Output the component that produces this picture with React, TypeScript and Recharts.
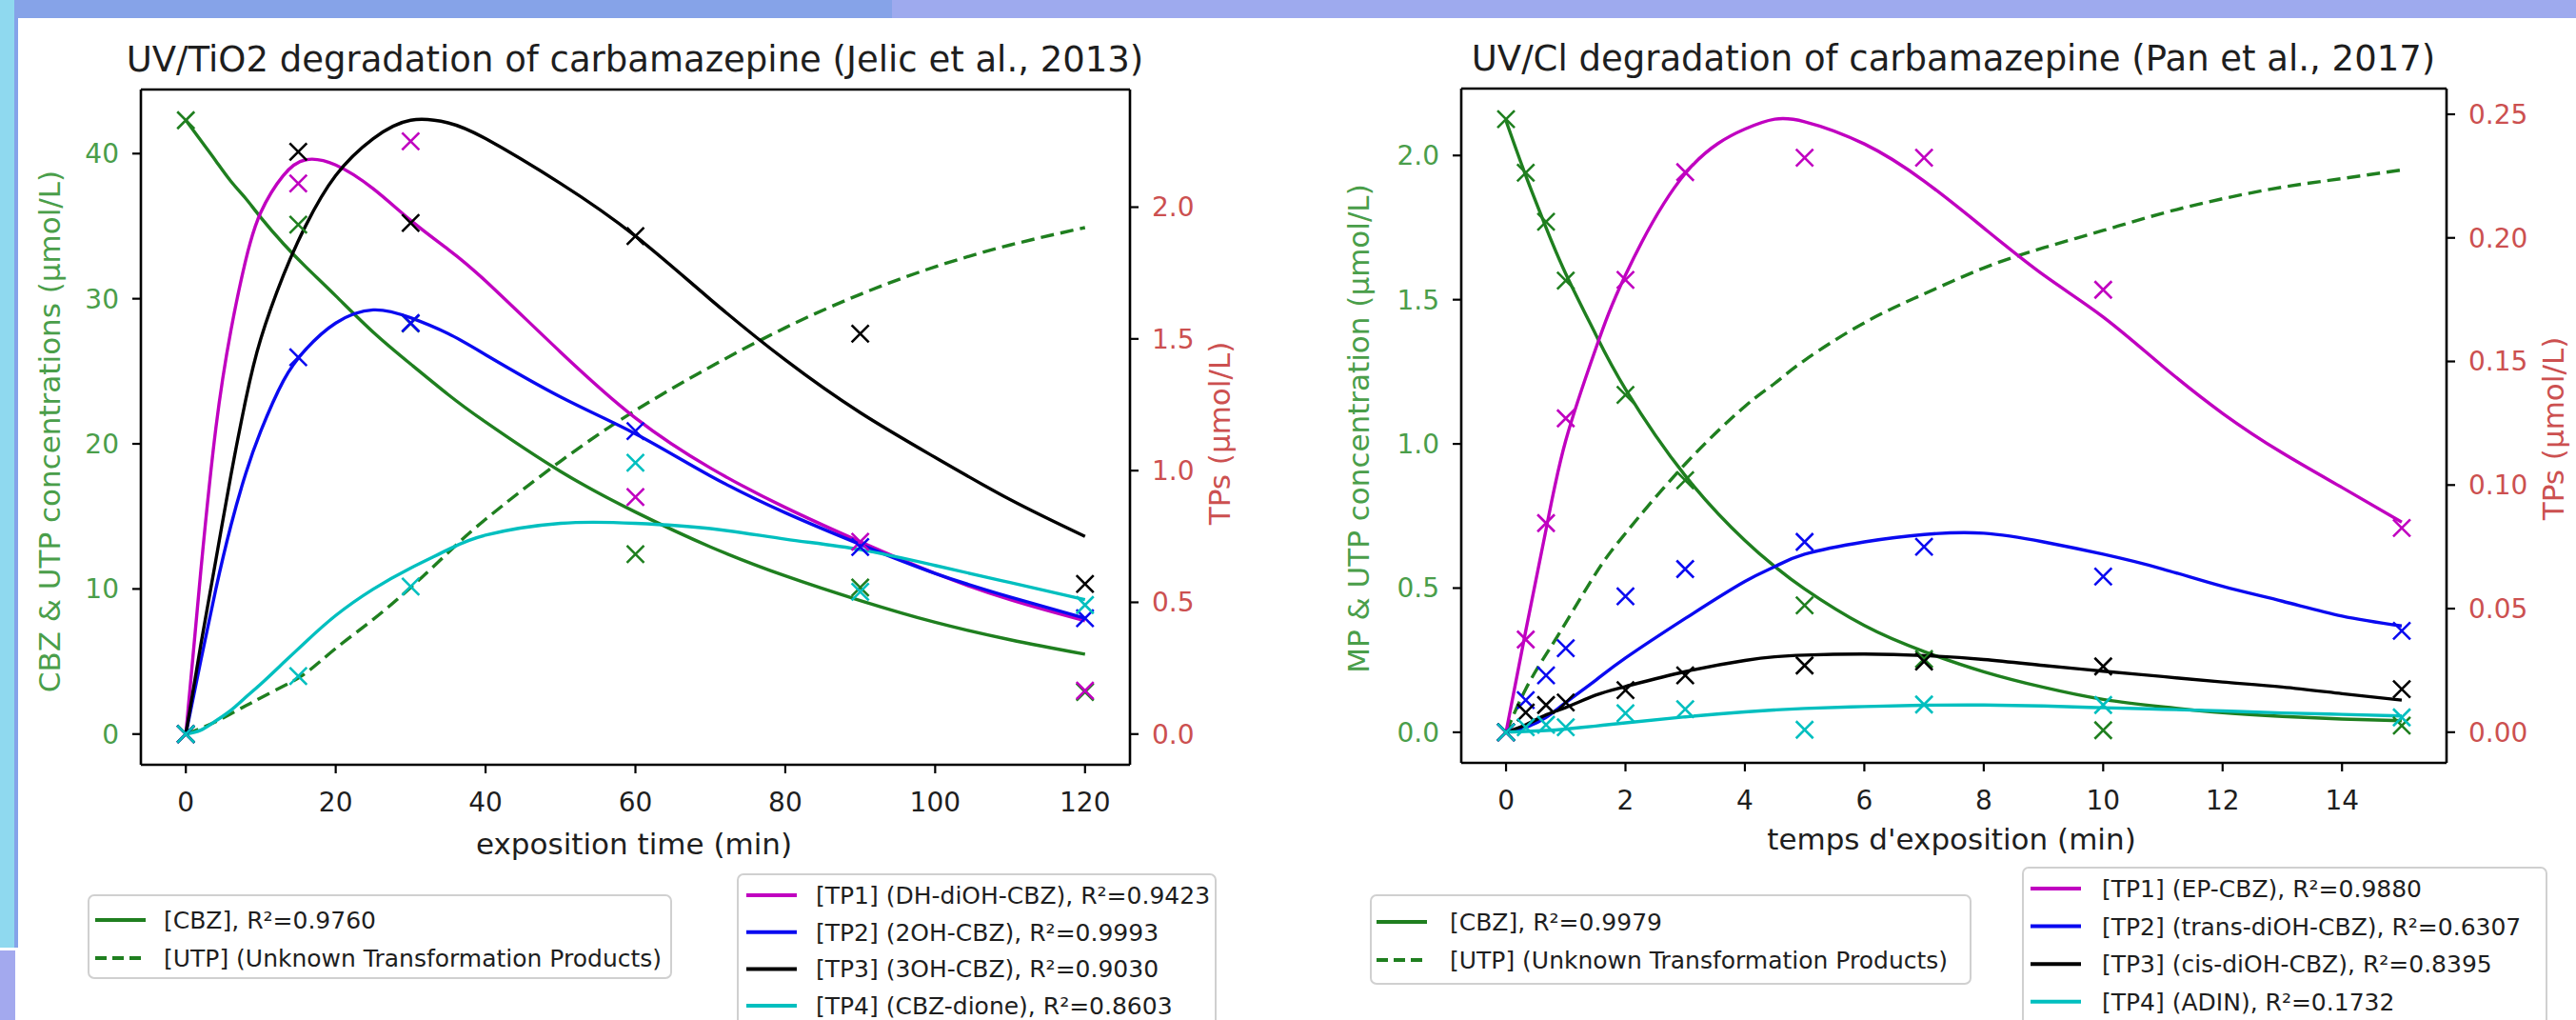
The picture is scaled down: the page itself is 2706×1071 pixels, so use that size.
import { ComposedChart, Line, Scatter, XAxis, YAxis, ReferenceLine } from 'recharts'

const FONT = '"DejaVu Sans", Verdana, sans-serif'

const GREEN = '#1f7f1f'
const MAGENTA = '#c000c0'
const BLUE = '#0a0af0'
const BLACK = '#000000'
const CYAN = '#00bfbf'
const AXIS_GREEN = '#4a9e4a'
const AXIS_RED = '#cc5050'
const TEXT = '#1e1e1e'

// ---------- UV/TiO2 (Jelic et al., 2013) ----------
const TIO2_SAMPLE_T = [0, 15, 30, 60, 90, 120]
const TIO2_CBZ_PTS = [42.3, 35.1, 28.3, 12.4, 10.1, 2.9]
const TIO2_TP1_PTS = [0, 2.09, 2.25, 0.9, 0.73, 0.165]
const TIO2_TP2_PTS = [0, 1.43, 1.56, 1.15, 0.71, 0.44]
const TIO2_TP3_PTS = [0, 2.21, 1.94, 1.89, 1.52, 0.57]
const TIO2_TP4_PTS = [0, 0.22, 0.56, 1.03, 0.54, 0.49]

const TIO2_FIT_T = [0, 2, 4, 6, 8, 10, 13, 16, 20, 25, 30, 35, 40, 50, 60, 70, 80, 90, 100, 110, 120]
const TIO2_CBZ_FIT = [42.3, 40.9, 39.5, 38.1, 36.9, 35.6, 33.8, 32.2, 30.2, 27.7, 25.5, 23.4, 21.5, 18.1, 15.3, 12.9, 10.9, 9.2, 7.7, 6.5, 5.5]
const TIO2_UTP_FIT = [0, 0.4, 0.85, 1.4, 1.95, 2.5, 3.3, 4.2, 5.9, 7.9, 10.1, 12.5, 14.8, 18.8, 22.3, 25.3, 28.0, 30.3, 32.2, 33.7, 34.9]
const TIO2_TP1_FIT = [0, 0.62, 1.16, 1.53, 1.8, 1.98, 2.12, 2.18, 2.16, 2.07, 1.95, 1.84, 1.72, 1.45, 1.2, 1.01, 0.86, 0.73, 0.61, 0.51, 0.43]
const TIO2_TP2_FIT = [0, 0.28, 0.55, 0.79, 0.99, 1.15, 1.34, 1.46, 1.56, 1.61, 1.58, 1.52, 1.44, 1.28, 1.14, 0.98, 0.84, 0.72, 0.61, 0.52, 0.44]
const TIO2_TP3_FIT = [0, 0.34, 0.66, 0.98, 1.27, 1.5, 1.74, 1.93, 2.12, 2.26, 2.33, 2.32, 2.26, 2.09, 1.89, 1.65, 1.42, 1.22, 1.05, 0.89, 0.75]
const TIO2_TP4_FIT = [0, 0.015, 0.05, 0.09, 0.14, 0.19, 0.27, 0.35, 0.45, 0.55, 0.63, 0.7, 0.755, 0.8, 0.8, 0.78, 0.74, 0.7, 0.64, 0.575, 0.51]

const TIO2_X_TICKS = [0, 20, 40, 60, 80, 100, 120]
const TIO2_L_TICKS = [0, 10, 20, 30, 40]
const TIO2_R_TICKS = [0, 0.5, 1, 1.5, 2]

// ---------- UV/Cl (Pan et al., 2017) ----------
const CL_SAMPLE_T = [0, 0.33, 0.67, 1, 2, 3, 5, 7, 10, 15]
const CL_CBZ_PTS = [2.126, 1.94, 1.77, 1.566, 1.17, 0.874, 0.44, 0.254, 0.007, 0.023]
const CL_TP1_PTS = [0, 0.0375, 0.0846, 0.127, 0.183, 0.2266, 0.2324, 0.2324, 0.179, 0.0826]
const CL_TP2_PTS = [0, 0.013, 0.023, 0.034, 0.055, 0.066, 0.077, 0.075, 0.063, 0.041]
const CL_TP3_PTS = [0, 0.008, 0.011, 0.012, 0.017, 0.023, 0.027, 0.0286, 0.0266, 0.0174]
const CL_TP4_PTS = [0, 0.002, 0.003, 0.002, 0.0077, 0.0093, 0.001, 0.0112, 0.011, 0.006]

const CL_FIT_T = [0, 0.33, 0.67, 1, 1.5, 2, 3, 4, 4.5, 5, 6, 7, 8, 9, 10, 11, 12, 13, 14, 15]
const CL_CBZ_FIT = [2.12, 1.93, 1.75, 1.59, 1.38, 1.19, 0.89, 0.665, 0.575, 0.497, 0.37, 0.28, 0.21, 0.156, 0.114, 0.088, 0.068, 0.055, 0.046, 0.04]
const CL_UTP_FIT = [0, 0.15, 0.27, 0.38, 0.55, 0.69, 0.93, 1.13, 1.21, 1.29, 1.42, 1.52, 1.61, 1.68, 1.74, 1.8, 1.85, 1.89, 1.92, 1.95]
const CL_TP1_FIT = [0, 0.041, 0.082, 0.118, 0.155, 0.185, 0.226, 0.244, 0.248, 0.247, 0.238, 0.223, 0.204, 0.185, 0.168, 0.148, 0.129, 0.113, 0.099, 0.085]
const CL_TP2_FIT = [0, 0.002, 0.006, 0.012, 0.021, 0.03, 0.046, 0.061, 0.067, 0.072, 0.077, 0.08, 0.0805, 0.077, 0.072, 0.066, 0.059, 0.053, 0.047, 0.043]
const CL_TP3_FIT = [0, 0.003, 0.007, 0.01, 0.015, 0.0185, 0.0245, 0.029, 0.0305, 0.0312, 0.0316, 0.031, 0.0294, 0.027, 0.0247, 0.0225, 0.0203, 0.0183, 0.0156, 0.013]
const CL_TP4_FIT = [0, 0.0003, 0.0007, 0.0013, 0.0025, 0.0038, 0.0062, 0.0082, 0.009, 0.0096, 0.0104, 0.0109, 0.011, 0.0106, 0.0099, 0.0093, 0.0086, 0.0078, 0.0072, 0.0066]

const CL_X_TICKS = [0, 2, 4, 6, 8, 10, 12, 14]
const CL_L_TICKS = [0, 0.5, 1, 1.5, 2]
const CL_R_TICKS = [0, 0.05, 0.1, 0.15, 0.2, 0.25]

// legend labels
const TIO2_MAIN_LABELS = ['[CBZ], R²=0.9760', '[UTP] (Unknown Transformation Products)']
const TIO2_TP_LABELS = [
  '[TP1] (DH-diOH-CBZ), R²=0.9423',
  '[TP2] (2OH-CBZ), R²=0.9993',
  '[TP3] (3OH-CBZ), R²=0.9030',
  '[TP4] (CBZ-dione), R²=0.8603',
]
const CL_MAIN_LABELS = ['[CBZ], R²=0.9979', '[UTP] (Unknown Transformation Products)']
const CL_TP_LABELS = [
  '[TP1] (EP-CBZ), R²=0.9880',
  '[TP2] (trans-diOH-CBZ), R²=0.6307',
  '[TP3] (cis-diOH-CBZ), R²=0.8395',
  '[TP4] (ADIN), R²=0.1732',
]

type Pt = { t: number; v: number }
const zip = (ts: number[], vs: number[]): Pt[] => ts.map((t, i) => ({ t, v: vs[i] }))

interface Series {
  id: string
  color: string
  axis: 'l' | 'r'
  fit: Pt[]
  pts?: Pt[]
  dashed?: boolean
}

const tio2Series: Series[] = [
  { id: 'cbz', color: GREEN, axis: 'l', fit: zip(TIO2_FIT_T, TIO2_CBZ_FIT), pts: zip(TIO2_SAMPLE_T, TIO2_CBZ_PTS) },
  { id: 'utp', color: GREEN, axis: 'l', fit: zip(TIO2_FIT_T, TIO2_UTP_FIT), dashed: true },
  { id: 'tp1', color: MAGENTA, axis: 'r', fit: zip(TIO2_FIT_T, TIO2_TP1_FIT), pts: zip(TIO2_SAMPLE_T, TIO2_TP1_PTS) },
  { id: 'tp2', color: BLUE, axis: 'r', fit: zip(TIO2_FIT_T, TIO2_TP2_FIT), pts: zip(TIO2_SAMPLE_T, TIO2_TP2_PTS) },
  { id: 'tp3', color: BLACK, axis: 'r', fit: zip(TIO2_FIT_T, TIO2_TP3_FIT), pts: zip(TIO2_SAMPLE_T, TIO2_TP3_PTS) },
  { id: 'tp4', color: CYAN, axis: 'r', fit: zip(TIO2_FIT_T, TIO2_TP4_FIT), pts: zip(TIO2_SAMPLE_T, TIO2_TP4_PTS) },
]

const clSeries: Series[] = [
  { id: 'cbz', color: GREEN, axis: 'l', fit: zip(CL_FIT_T, CL_CBZ_FIT), pts: zip(CL_SAMPLE_T, CL_CBZ_PTS) },
  { id: 'utp', color: GREEN, axis: 'l', fit: zip(CL_FIT_T, CL_UTP_FIT), dashed: true },
  { id: 'tp1', color: MAGENTA, axis: 'r', fit: zip(CL_FIT_T, CL_TP1_FIT), pts: zip(CL_SAMPLE_T, CL_TP1_PTS) },
  { id: 'tp2', color: BLUE, axis: 'r', fit: zip(CL_FIT_T, CL_TP2_FIT), pts: zip(CL_SAMPLE_T, CL_TP2_PTS) },
  { id: 'tp3', color: BLACK, axis: 'r', fit: zip(CL_FIT_T, CL_TP3_FIT), pts: zip(CL_SAMPLE_T, CL_TP3_PTS) },
  { id: 'tp4', color: CYAN, axis: 'r', fit: zip(CL_FIT_T, CL_TP4_FIT), pts: zip(CL_SAMPLE_T, CL_TP4_PTS) },
]

// matplotlib-style 'x' marker
function crossMark(color: string) {
  return (props: any) => {
    const { cx, cy } = props
    if (cx == null || cy == null) return <g />
    const r = 9
    return (
      <path
        d={`M${cx - r},${cy - r}L${cx + r},${cy + r}M${cx - r},${cy + r}L${cx + r},${cy - r}`}
        stroke={color}
        strokeWidth={2.6}
        fill="none"
      />
    )
  }
}

interface PanelProps {
  left: number
  width: number
  margin: { top: number; right: number; bottom: number; left: number }
  xDomain: [number, number]
  xTicks: number[]
  lDomain: [number, number]
  lTicks: number[]
  lFmt: (v: number) => string
  rDomain: [number, number]
  rTicks: number[]
  rFmt: (v: number) => string
  series: Series[]
}

function Panel(p: PanelProps) {
  const tick = (fill: string) => ({ fill, fontSize: 28, fontFamily: FONT })
  const axisLine = { stroke: '#000', strokeWidth: 2.6 }
  const tickLine = { stroke: '#000', strokeWidth: 2.2 }

  return (
    <div style={{ position: 'absolute', left: p.left, top: 0 }}>
      <ComposedChart width={p.width} height={1071} margin={p.margin}>
        <XAxis
          xAxisId="x"
          type="number"
          dataKey="t"
          domain={p.xDomain}
          ticks={p.xTicks}
          interval={0}
          allowDataOverflow
          height={100}
          tickSize={9}
          tickMargin={20}
          tick={tick(TEXT)}
          axisLine={axisLine}
          tickLine={tickLine}
        />
        <YAxis
          yAxisId="l"
          type="number"
          domain={p.lDomain}
          ticks={p.lTicks}
          interval={0}
          allowDataOverflow
          width={100}
          tickSize={9}
          tickMargin={14}
          tickFormatter={p.lFmt}
          tick={tick(AXIS_GREEN)}
          axisLine={axisLine}
          tickLine={tickLine}
        />
        <YAxis
          yAxisId="r"
          orientation="right"
          type="number"
          domain={p.rDomain}
          ticks={p.rTicks}
          interval={0}
          allowDataOverflow
          width={100}
          tickSize={9}
          tickMargin={14}
          tickFormatter={p.rFmt}
          tick={tick(AXIS_RED)}
          axisLine={axisLine}
          tickLine={tickLine}
        />
        {/* top spine */}
        <ReferenceLine xAxisId="x" yAxisId="l" y={p.lDomain[1]} stroke="#000" strokeWidth={2.6} />
        {p.series.map((s) => (
          <Line
            key={`fit-${s.id}`}
            xAxisId="x"
            yAxisId={s.axis}
            data={s.fit}
            dataKey="v"
            type="natural"
            stroke={s.color}
            strokeWidth={3.4}
            strokeDasharray={s.dashed ? '14 7' : undefined}
            dot={false}
            activeDot={false}
            isAnimationActive={false}
          />
        ))}
        {p.series
          .filter((s) => s.pts)
          .map((s) => (
            <Scatter
              key={`pts-${s.id}`}
              xAxisId="x"
              yAxisId={s.axis}
              data={s.pts}
              dataKey="v"
              shape={crossMark(s.color)}
              isAnimationActive={false}
            />
          ))}
      </ComposedChart>
    </div>
  )
}

interface LegendBoxProps {
  x: number
  y: number
  w: number
  h: number
  firstRow: number
  gap: number
  lineX: number
  textX: number
  labels: string[]
  colors: string[]
  dashed?: boolean[]
}

function LegendBox(b: LegendBoxProps) {
  return (
    <g>
      <rect x={b.x} y={b.y} width={b.w} height={b.h} rx={6} fill="#fff" stroke="#d0d0d0" strokeWidth={2} />
      {b.labels.map((label, i) => {
        const cy = b.firstRow + i * b.gap
        return (
          <g key={label}>
            <line
              x1={b.lineX}
              x2={b.lineX + 53}
              y1={cy}
              y2={cy}
              stroke={b.colors[i]}
              strokeWidth={4}
              strokeDasharray={b.dashed && b.dashed[i] ? '12 6' : undefined}
            />
            <text x={b.textX} y={cy + 9} fontSize={25} fill={TEXT}>
              {label}
            </text>
          </g>
        )
      })}
    </g>
  )
}

function Annotations() {
  const vlabel = (x: number, y: number, txt: string, fill: string) => (
    <text transform={`translate(${x},${y}) rotate(-90)`} textAnchor="middle" fontSize={31} fill={fill}>
      {txt}
    </text>
  )
  const tpColors = [MAGENTA, BLUE, BLACK, CYAN]
  return (
    <svg
      width={2706}
      height={1071}
      style={{ position: 'absolute', left: 0, top: 0, pointerEvents: 'none' }}
      fontFamily={FONT}
    >
      <text x={667} y={75} textAnchor="middle" fontSize={37} fill={TEXT}>
        UV/TiO2 degradation of carbamazepine (Jelic et al., 2013)
      </text>
      <text x={2052} y={74} textAnchor="middle" fontSize={37} fill={TEXT}>
        UV/Cl degradation of carbamazepine (Pan et al., 2017)
      </text>

      <text x={666} y={897} textAnchor="middle" fontSize={31} fill={TEXT}>
        exposition time (min)
      </text>
      <text x={2050} y={892} textAnchor="middle" fontSize={31} fill={TEXT}>
        temps d'exposition (min)
      </text>

      {vlabel(63, 453, 'CBZ & UTP concentrations (µmol/L)', AXIS_GREEN)}
      {vlabel(1292, 455, 'TPs (µmol/L)', AXIS_RED)}
      {vlabel(1438, 450, 'MP & UTP concentration (µmol/L)', AXIS_GREEN)}
      {vlabel(2693, 450, 'TPs (µmol/L)', AXIS_RED)}

      <LegendBox
        x={93} y={940} w={612} h={87} firstRow={966} gap={40} lineX={100} textX={172}
        labels={TIO2_MAIN_LABELS} colors={[GREEN, GREEN]} dashed={[false, true]}
      />
      <LegendBox
        x={775} y={918} w={502} h={200} firstRow={940} gap={38.7} lineX={784} textX={857}
        labels={TIO2_TP_LABELS} colors={tpColors}
      />
      <LegendBox
        x={1440} y={940} w={630} h={93} firstRow={968} gap={40} lineX={1446} textX={1523}
        labels={CL_MAIN_LABELS} colors={[GREEN, GREEN]} dashed={[false, true]}
      />
      <LegendBox
        x={2125} y={911} w={550} h={200} firstRow={933} gap={39.6} lineX={2133} textX={2208}
        labels={CL_TP_LABELS} colors={tpColors}
      />
    </svg>
  )
}

export default function App() {
  const int = (v: number) => String(v)
  const one = (v: number) => v.toFixed(1)
  const two = (v: number) => v.toFixed(2)

  return (
    <div
      style={{
        position: 'absolute',
        left: 0,
        top: 0,
        width: 2706,
        height: 1071,
        background: '#fff',
        overflow: 'hidden',
        fontFamily: FONT,
      }}
    >
      {/* slide frame */}
      <div style={{ position: 'absolute', left: 0, top: 0, width: 937, height: 19, background: '#86a3e8' }} />
      <div style={{ position: 'absolute', left: 937, top: 0, width: 1769, height: 19, background: '#9eaaee' }} />
      <div style={{ position: 'absolute', left: 0, top: 0, width: 15, height: 995, background: '#8fd9ef' }} />
      <div style={{ position: 'absolute', left: 15, top: 19, width: 4, height: 976, background: '#85a3e9' }} />
      <div style={{ position: 'absolute', left: 0, top: 998, width: 16, height: 73, background: '#a3a9ee' }} />

      <Panel
        left={0}
        width={1350}
        margin={{ top: 94, right: 63, bottom: 168, left: 48 }}
        xDomain={[-6, 126]}
        xTicks={TIO2_X_TICKS}
        lDomain={[-2.115, 44.415]}
        lTicks={TIO2_L_TICKS}
        lFmt={int}
        rDomain={[-0.1165, 2.4465]}
        rTicks={TIO2_R_TICKS}
        rFmt={one}
        series={tio2Series}
      />
      <Panel
        left={1350}
        width={1356}
        margin={{ top: 93, right: 36, bottom: 170, left: 85 }}
        xDomain={[-0.75, 15.75]}
        xTicks={CL_X_TICKS}
        lDomain={[-0.106, 2.232]}
        lTicks={CL_L_TICKS}
        lFmt={one}
        rDomain={[-0.0124, 0.2604]}
        rTicks={CL_R_TICKS}
        rFmt={two}
        series={clSeries}
      />

      <Annotations />
    </div>
  )
}
